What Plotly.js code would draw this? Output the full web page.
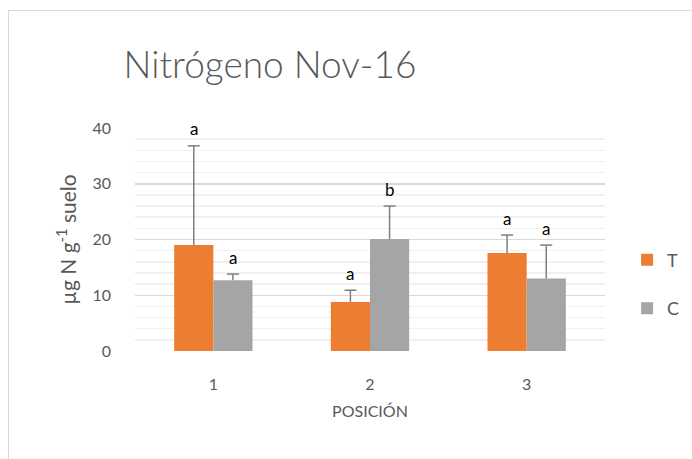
<!DOCTYPE html>
<html><head><meta charset="utf-8">
<script src="https://cdn.plot.ly/plotly-3.0.1.min.js"></script>
<style>
html,body{margin:0;padding:0;background:#fff;}
#wrap{position:relative;width:692px;height:459px;overflow:hidden;}
#frame{position:absolute;left:8px;top:10px;width:700px;height:460px;border-left:1px solid #d9d9d9;border-top:1px solid #d9d9d9;pointer-events:none;}
#chart{position:absolute;left:0;top:0;width:692px;height:459px;}
</style></head>
<body><div id="wrap"><div id="chart"></div><div id="frame"></div></div>
<script>
const categories = ["1", "2", "3"];
const seriesNames = ["T", "C"];
const valuesT = [19.0, 8.8, 17.6];
const errorsT = [17.8, 2.1, 3.2];
const valuesC = [12.7, 20.1, 13.0];
const errorsC = [1.1, 5.9, 6.0];
const lettersT = ["a", "a", "a"];
const lettersC = ["a", "b", "a"];

const FONT = "Lato, Open Sans, sans-serif";
const GREY = "#595959";
const ERRCOL = "#7f7f7f";
const MARGIN = {l:135, r:87, t:128, b:108, autoexpand:false};
const BARGAP = 0.5;
const PLOT_W = 692 - MARGIN.l - MARGIN.r;
const BAR_W = PLOT_W / categories.length * (1 - BARGAP) / seriesNames.length;
const BAR_OFF = BAR_W / 2; // bar centre offset from group centre, px

const idx = categories.map((c, i) => i);

const traces = [
  {type:"bar", name:seriesNames[0], legendgroup:"g1", x:idx, y:valuesT,
   marker:{color:"#ED7D31"},
   error_y:{type:"data", array:errorsT, symmetric:false, arrayminus:errorsT.map(()=>0), color:ERRCOL, thickness:1.5, width:0}},
  {type:"bar", name:seriesNames[1], legendgroup:"g2", x:idx, y:valuesC,
   marker:{color:"#A5A5A5"},
   error_y:{type:"data", array:errorsC, symmetric:false, arrayminus:errorsC.map(()=>0), color:ERRCOL, thickness:1.5, width:0}}
];

const annotations = [];
const shapes = [];
idx.forEach(i => {
  [[valuesT, errorsT, lettersT, -BAR_OFF], [valuesC, errorsC, lettersC, BAR_OFF]].forEach(([v, e, l, off]) => {
    const top = v[i] + e[i];
    annotations.push({x:i, y:top, text:l[i], showarrow:false, xshift:off, yshift:17, yanchor:"middle",
                      font:{family:FONT, size:17, color:"#000"}});
    shapes.push({type:"line", xref:"x", yref:"y", xsizemode:"pixel", xanchor:i, x0:off-6, x1:off+6,
                 y0:top, y1:top, line:{color:ERRCOL, width:1.5}, layer:"above"});
  });
});

const layout = {
  width:692, height:459,
  margin:MARGIN,
  paper_bgcolor:"#fff", plot_bgcolor:"#fff",
  title:{text:"Nitrógeno Nov-16", x:270/692, xanchor:"center", y:1-65/459, yanchor:"middle",
         font:{family:FONT, size:37, color:GREY, weight:300}},
  barmode:"group", bargap:BARGAP, bargroupgap:0,
  showlegend:true,
  legend:{x:1.047, y:0.30, xanchor:"left", yanchor:"middle", font:{family:FONT, size:18, color:GREY}, tracegroupgap:22, itemwidth:30},
  xaxis:{type:"linear", range:[-0.5, 2.5], tickvals:idx, ticktext:categories, showgrid:false, zeroline:false, showline:false, ticks:"",
         tickfont:{family:FONT, size:16, color:GREY}, ticklabelstandoff:22,
         title:{text:"POSICIÓN", font:{family:FONT, size:16, color:GREY}, standoff:13}},
  yaxis:{range:[0,40], dtick:10, showgrid:true, gridcolor:"#d9d9d9", gridwidth:1.5, zeroline:false, showline:false, ticks:"",
         tickfont:{family:FONT, size:16, color:GREY}, ticklabelstandoff:23,
         minor:{dtick:2, showgrid:true, gridcolor:"#f0f0f0", gridwidth:1.5},
         title:{text:"µg N g<sup>-1</sup> suelo", font:{family:FONT, size:21, color:GREY}, standoff:10}},
  annotations:annotations,
  shapes:shapes
};
Plotly.newPlot("chart", traces, layout, {displayModeBar:false, staticPlot:true});
</script></body></html>
